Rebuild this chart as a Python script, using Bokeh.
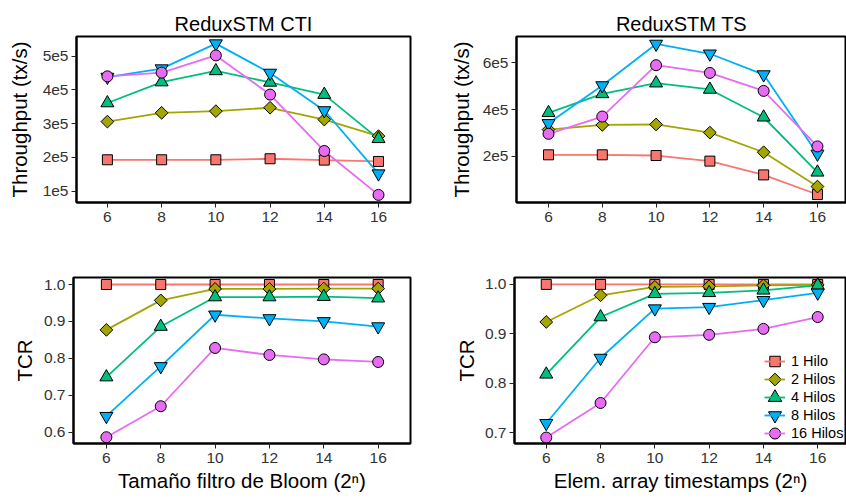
import numpy as np
from bokeh.plotting import figure
from bokeh.layouts import column, row
from bokeh.models import FixedTicker, Legend, Range1d
from bokeh.embed import file_html
from bokeh.resources import INLINE

# ---------------- data ----------------
x_exp = [6, 8, 10, 12, 14, 16]
series_labels = ["1 Hilo", "2 Hilos", "4 Hilos", "8 Hilos", "16 Hilos"]

# Throughput ReduxSTM CTI (tx/s)
cti_thr_1 = [1.93e5, 1.93e5, 1.93e5, 1.96e5, 1.92e5, 1.88e5]
cti_thr_2 = [3.06e5, 3.32e5, 3.37e5, 3.47e5, 3.12e5, 2.63e5]
cti_thr_4 = [3.61e5, 4.23e5, 4.56e5, 4.22e5, 3.86e5, 2.55e5]
cti_thr_8 = [4.38e5, 4.63e5, 5.37e5, 4.50e5, 3.39e5, 1.52e5]
cti_thr_16 = [4.40e5, 4.51e5, 5.02e5, 3.86e5, 2.19e5, 0.89e5]

# Throughput ReduxSTM TS (tx/s)
ts_thr_1 = [2.06e5, 2.06e5, 2.03e5, 1.79e5, 1.20e5, 0.36e5]
ts_thr_2 = [3.14e5, 3.34e5, 3.36e5, 3.01e5, 2.17e5, 0.70e5]
ts_thr_4 = [3.86e5, 4.67e5, 5.13e5, 4.86e5, 3.67e5, 1.31e5]
ts_thr_8 = [3.41e5, 5.03e5, 6.81e5, 6.39e5, 5.50e5, 2.10e5]
ts_thr_16 = [2.96e5, 3.70e5, 5.90e5, 5.57e5, 4.80e5, 2.42e5]

# TCR ReduxSTM CTI
cti_tcr_1 = [1.0, 1.0, 1.0, 1.0, 1.0, 1.0]
cti_tcr_2 = [0.877, 0.957, 0.988, 0.988, 0.989, 0.989]
cti_tcr_4 = [0.749, 0.886, 0.966, 0.966, 0.967, 0.963]
cti_tcr_8 = [0.643, 0.778, 0.918, 0.908, 0.900, 0.886]
cti_tcr_16 = [0.586, 0.670, 0.828, 0.809, 0.797, 0.790]

# TCR ReduxSTM TS
ts_tcr_1 = [1.0, 1.0, 1.0, 1.0, 1.0, 1.0]
ts_tcr_2 = [0.924, 0.978, 0.995, 0.996, 0.998, 0.999]
ts_tcr_4 = [0.818, 0.934, 0.981, 0.983, 0.988, 0.998]
ts_tcr_8 = [0.719, 0.851, 0.951, 0.954, 0.968, 0.983]
ts_tcr_16 = [0.690, 0.760, 0.893, 0.898, 0.910, 0.934]

# tick labels
cti_thr_ticks = [1e5, 2e5, 3e5, 4e5, 5e5]
cti_thr_tick_labels = ["1e5", "2e5", "3e5", "4e5", "5e5"]
ts_thr_ticks = [2e5, 4e5, 6e5]
ts_thr_tick_labels = ["2e5", "4e5", "6e5"]
cti_tcr_ticks = [0.6, 0.7, 0.8, 0.9, 1.0]
cti_tcr_tick_labels = ["0.6", "0.7", "0.8", "0.9", "1.0"]
ts_tcr_ticks = [0.7, 0.8, 0.9, 1.0]
ts_tcr_tick_labels = ["0.7", "0.8", "0.9", "1.0"]

# ---------------- style ----------------
FONT = "Liberation Sans"
colors = ["#F8766D", "#A3A500", "#00BF7D", "#00B0F6", "#E76BF3"]
markers = ["square", "square", "triangle", "inverted_triangle", "circle"]
msizes = [10, 9, 13, 13, 11]
mangles = [0, np.pi / 4, 0, 0, 0]
leg_sizes = [10.5, 9, 13.5, 13, 11]


def make_fig(w, h, xr, yr, bl, br, bt, bb, yticks, ylabels, ylabel,
             ystand, xlabel=None, title=None):
    p = figure(width=w, height=h, x_range=xr, y_range=yr,
               output_backend="svg", toolbar_location=None,
               min_border_left=bl, min_border_right=br,
               min_border_top=bt, min_border_bottom=bb,
               title=title)
    p.background_fill_color = "white"
    p.border_fill_color = "white"
    p.xgrid.visible = False
    p.ygrid.visible = False
    p.outline_line_color = "black"
    p.outline_line_width = 2
    if title is not None:
        p.title.text_font = FONT
        p.title.text_font_size = "20px"
        p.title.text_font_style = "normal"
        p.title.text_color = "black"
        p.title.align = "center"
        p.title.standoff = 4
    for ax in (p.xaxis[0], p.yaxis[0]):
        ax.axis_line_color = "black"
        ax.axis_line_width = 2
        ax.major_tick_line_color = "#222222"
        ax.major_tick_line_width = 1
        ax.major_tick_out = 5
        ax.major_tick_in = 0
        ax.minor_tick_line_color = None
        ax.major_label_text_font = FONT
        ax.major_label_text_font_size = "15.5px"
        ax.major_label_text_color = "#333333"
        ax.axis_label_text_font = FONT
        ax.axis_label_text_font_size = "20.5px"
        ax.axis_label_text_font_style = "normal"
        ax.axis_label_text_color = "black"
    p.xaxis[0].ticker = FixedTicker(ticks=x_exp)
    p.xaxis[0].major_label_standoff = 4
    p.yaxis[0].ticker = FixedTicker(ticks=yticks)
    p.yaxis[0].major_label_overrides = {t: l for t, l in zip(yticks, ylabels)}
    p.yaxis[0].major_label_standoff = 3
    p.yaxis[0].axis_label = ylabel
    p.yaxis[0].axis_label_standoff = ystand
    if xlabel is not None:
        p.xaxis[0].axis_label = xlabel
        p.xaxis[0].axis_label_standoff = 3
    return p


def draw(p, ys):
    lines = []
    for y, c in zip(ys, colors):
        lines.append(p.line(x_exp, y, line_color=c, line_width=1.8))
    for i, (y, c) in enumerate(zip(ys, colors)):
        p.scatter(x_exp, y, marker=markers[i], size=msizes[i],
                  angle=mangles[i], fill_color=c, line_color="black",
                  line_width=1)
    return lines


def add_legend(p, lines, frame_w, frame_h, loc_x, loc_y, row_h, glyph_w):
    items = [(lab, [ln]) for lab, ln in zip(series_labels, lines)]
    lg = Legend(items=items, location=(loc_x, loc_y))
    lg.background_fill_alpha = 0
    lg.border_line_alpha = 0
    lg.padding = 0
    lg.margin = 0
    lg.spacing = 0
    lg.glyph_width = glyph_w
    lg.glyph_height = row_h
    lg.label_height = row_h
    lg.label_standoff = 6
    lg.label_text_font = FONT
    lg.label_text_font_size = "14.5px"
    lg.label_text_color = "black"
    p.add_layout(lg, "center")
    # legend keys (markers) drawn in frame-pixel space on top of the legend
    p.extra_x_ranges = {"leg": Range1d(0, frame_w)}
    p.extra_y_ranges = {"leg": Range1d(0, frame_h)}
    n = len(series_labels)
    kx = loc_x + glyph_w / 2
    for i, c in enumerate(colors):
        ky = loc_y + (n - 1 - i) * row_h + row_h / 2
        p.scatter([kx], [ky], marker=markers[i], size=leg_sizes[i],
                  angle=mangles[i], fill_color=c, line_color="black",
                  line_width=1, x_range_name="leg", y_range_name="leg",
                  level="overlay")


p1 = make_fig(423, 250, (4.86, 17.18), (0.665e5, 5.58e5), 76, 13, 36, 48,
              cti_thr_ticks, cti_thr_tick_labels, "Throughput (tx/s)", 9,
              title="ReduxSTM CTI")
draw(p1, [cti_thr_1, cti_thr_2, cti_thr_4, cti_thr_8, cti_thr_16])

p2 = make_fig(423, 250, (4.81, 17.08), (0.017e5, 7.13e5), 93, 0, 36, 48,
              ts_thr_ticks, ts_thr_tick_labels, "Throughput (tx/s)", 7,
              title="ReduxSTM TS")
draw(p2, [ts_thr_1, ts_thr_2, ts_thr_4, ts_thr_8, ts_thr_16])

p3 = make_fig(423, 251, (4.79, 17.19), (0.569, 1.019), 73, 13, 27, 58,
              cti_tcr_ticks, cti_tcr_tick_labels, "TCR", 5,
              xlabel="Tamaño filtro de Bloom (2ⁿ)")
draw(p3, [cti_tcr_1, cti_tcr_2, cti_tcr_4, cti_tcr_8, cti_tcr_16])

p4 = make_fig(423, 251, (4.83, 17.06), (0.678, 1.014), 91, 0, 27, 58,
              ts_tcr_ticks, ts_tcr_tick_labels, "TCR", 4,
              xlabel="Elem. array timestamps (2ⁿ)")
l4 = draw(p4, [ts_tcr_1, ts_tcr_2, ts_tcr_4, ts_tcr_8, ts_tcr_16])
add_legend(p4, l4, frame_w=423 - 91, frame_h=251 - 27 - 58,
           loc_x=250, loc_y=1, row_h=18, glyph_w=21)

layout = column(row(p1, p2), row(p3, p4))
open("out.html", "w").write(file_html(layout, INLINE))
